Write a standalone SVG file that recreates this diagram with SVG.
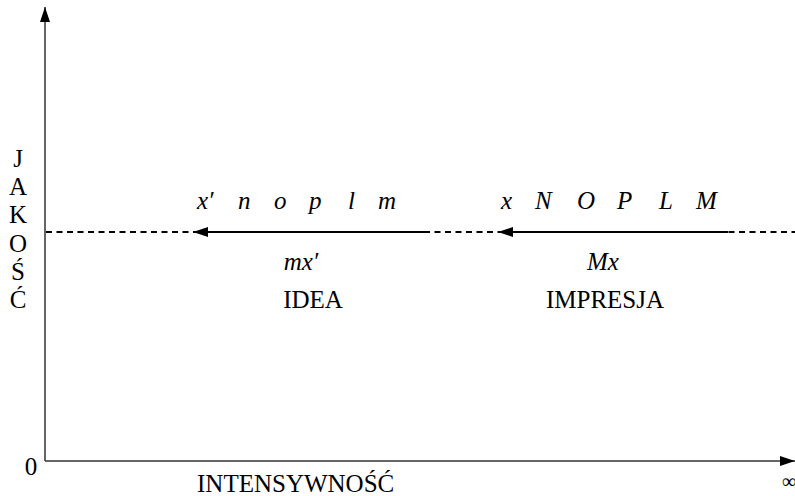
<svg xmlns="http://www.w3.org/2000/svg" width="795" height="496" viewBox="0 0 795 496">
<style>
text{font-family:"Liberation Serif","Times New Roman",serif;font-size:25px;fill:#000}
.i{font-style:italic}
.ax{stroke:#333;stroke-width:1.5;fill:none}
.dash{stroke:#000;stroke-width:2;stroke-dasharray:6,4.5;fill:none}
.arr{stroke:#000;stroke-width:2.2;fill:none}
</style>
<defs>
<marker id="ah" markerWidth="15" markerHeight="10" refX="15" refY="5" orient="auto" markerUnits="userSpaceOnUse">
<path d="M0,0 L15,5 L0,10 Z" fill="#000"/>
</marker>
</defs>
<g id="axes">
<line class="ax" x1="45" y1="461" x2="45" y2="7" marker-end="url(#ah)"/>
<line class="ax" x1="45" y1="461" x2="795" y2="461" marker-end="url(#ah)"/>
</g>
<g id="connectors">
<line class="dash" x1="46" y1="232" x2="795" y2="232"/>
<line class="arr" x1="424" y1="232" x2="193" y2="232" marker-end="url(#ah)"/>
<line class="arr" x1="728" y1="232" x2="498" y2="232" marker-end="url(#ah)"/>
</g>
<g id="idea">
<text class="i" x="197" y="209">x′</text>
<text class="i" x="238" y="209">n</text>
<text class="i" x="274" y="209">o</text>
<text class="i" x="309" y="209">p</text>
<text class="i" x="348" y="209">l</text>
<text class="i" x="378" y="209">m</text>
<text class="i" x="301" y="270" text-anchor="middle">mx′</text>
<text x="313" y="308" text-anchor="middle">IDEA</text>
</g>
<g id="impresja">
<text class="i" x="501" y="209">x</text>
<text class="i" x="535" y="209">N</text>
<text class="i" x="577" y="209">O</text>
<text class="i" x="617" y="209">P</text>
<text class="i" x="659" y="209">L</text>
<text class="i" x="696" y="209">M</text>
<text class="i" x="603" y="270" text-anchor="middle">Mx</text>
<text x="605" y="308" text-anchor="middle">IMPRESJA</text>
</g>
<g id="labels">
<text x="18" y="167" text-anchor="middle">J</text>
<text x="18" y="195" text-anchor="middle">A</text>
<text x="18" y="223" text-anchor="middle">K</text>
<text x="18" y="252" text-anchor="middle">O</text>
<text x="18" y="280" text-anchor="middle">Ś</text>
<text x="18" y="308" text-anchor="middle">Ć</text>
<text x="31" y="475" text-anchor="middle">0</text>
<text x="197" y="492">INTENSYWNOŚĆ</text>
<text x="789" y="488" text-anchor="middle" style="font-size:20px">∞</text>
</g>
</svg>
